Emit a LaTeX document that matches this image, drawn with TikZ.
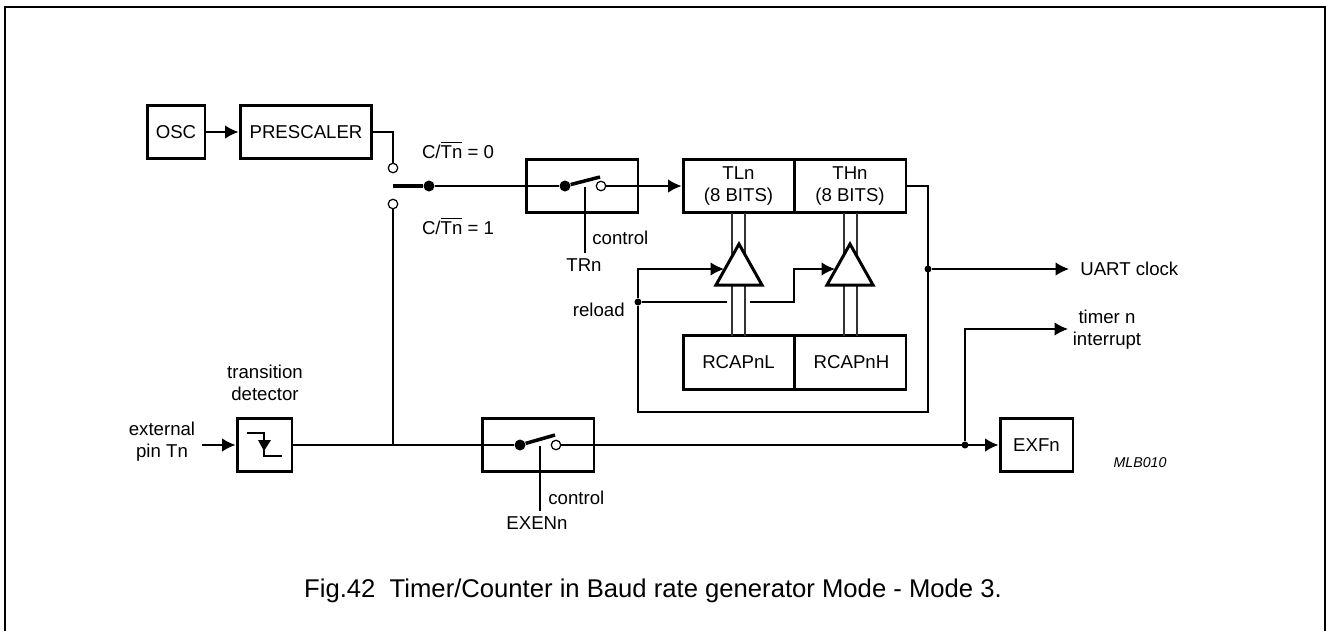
\documentclass[tikz,border=0pt]{standalone}
\usepackage{fontspec}
\setmainfont{Liberation Sans}
\usepackage{tikz}
\usetikzlibrary{arrows.meta,calc,positioning}
\tikzset{
  blockbox/.style={draw,line width=1.7pt,minimum height=1.07cm,inner sep=0pt,align=center},
  wire/.style={line width=0.85pt},
  bus/.style={line width=0.85pt,draw=black!80},
  flow/.style={wire,-{Latex[length=2.7mm,width=2.7mm]}},
  opendot/.style={circle,draw,fill=white,line width=0.7pt,minimum size=0.19cm,inner sep=0pt},
  blackdot/.style={circle,fill=black,minimum size=0.22cm,inner sep=0pt},
  smalldot/.style={circle,fill=black,minimum size=0.14cm,inner sep=0pt},
  buffer/.style={draw,fill=white,line width=1.7pt,line join=miter},
  lever/.style={line width=2pt},
  lab/.style={inner sep=0pt,align=center,font=\fontsize{10.6}{12.4}\selectfont},
}
\begin{document}
\begin{tikzpicture}[x=0.02cm,y=-0.02cm,>=Latex]
  \useasboundingbox (0,0) rectangle (1326,630);
  \draw[line width=1.1pt] (5,631)--(5,7)--(1325,7)--(1325,631);
  % upper row
  \node[blockbox,lab,minimum width=1.16cm] (osc) at (176,132) {OSC};
  \node[blockbox,lab,minimum width=2.64cm] (prescaler) at (306,132) {PRESCALER};
  \node[blockbox,minimum width=2.24cm] (swa) at (582,186) {};
  \node[blockbox,lab,minimum width=2.22cm] (tl) at (738.5,186) {TLn\\(8 BITS)};
  \node[blockbox,lab,minimum width=2.24cm] (th) at (850,186) {THn\\(8 BITS)};
  \node[blockbox,lab,minimum width=2.22cm] (rl) at (738.5,362.5) {RCAPnL};
  \node[blockbox,lab,minimum width=2.24cm] (rh) at (850,362.5) {\hspace{0.06cm}RCAPnH};
  % lower row
  \node[blockbox,minimum width=1.1cm] (det) at (264.5,445) {};
  \node[blockbox,minimum width=2.24cm] (swb) at (538,445) {};
  \node[blockbox,lab,minimum width=1.46cm] (exf) at (1036.5,445) {EXFn};
  % contacts
  \node[opendot] (ctop) at (393,168) {};
  \node[opendot] (cbot) at (393,204) {};
  \node[blackdot] (pole) at (429,186) {};
  \coordinate (polel) at (393,186);
  \node[blackdot] (swapole) at (565,186) {};
  \node[opendot] (swacon) at (601,186) {};
  \node[blackdot] (swbpole) at (520,445) {};
  \node[opendot] (swbcon) at (556,445) {};
  \coordinate (swatip) at (600,177);
  \coordinate (swbtip) at (555,435);
  % junctions
  \node[smalldot] (jclock) at (928,269) {};
  \node[smalldot] (jreload) at (638,302) {};
  \node[smalldot] (jint) at (965,445) {};
  \coordinate (jpin) at (393,445);
  % labels
  \node[lab] (ceq0) at (458,150) {C/$\overline{\mbox{Tn}}$ = 0};
  \node[lab] (ceq1) at (458,226) {C/$\overline{\mbox{Tn}}$ = 1};
  \node[lab,anchor=west] (ctla) at (592,238) {control};
  \node[lab] (trn) at (584,265) {TRn};
  \node[lab,anchor=east] (reload) at (625,310) {reload};
  \node[lab,anchor=west] (uart) at (1080,269) {UART clock};
  \node[lab] (timer) at (1107,330) {timer n\\interrupt};
  \node[lab] (trans) at (265,383) {transition\\detector};
  \node[lab] (ext) at (162,442) {external\\pin Tn};
  \node[lab,anchor=west] (ctlb) at (548,498) {control};
  \node[lab] (exen) at (537,523) {EXENn};
  \node[lab,font=\fontsize{8.1}{9}\selectfont\itshape] (mlb) at (1140,463) {MLB010};
  \node[lab,font=\fontsize{14.6}{16}\selectfont] (cap) at (653,591) {Fig.42\ \ Timer/Counter in Baud rate generator Mode - Mode 3.};
  % buffers
  \draw[bus] (732,213)--(732,336) (745,213)--(745,336);
  \draw[bus] (844,213)--(844,336) (857,213)--(857,336);
  \draw[buffer] (739,244)--(762,285)--(716,285)--cycle;
  \draw[buffer] (850,244)--(873,285)--(827,285)--cycle;
  % connectors
  \draw[flow] (osc)--(prescaler);
  \draw[wire] (prescaler.east) -| (ctop);
  \draw[lever] (polel)--(pole);
  \draw[wire] (pole)--(swapole);
  \draw[lever] (swapole)--(swatip);
  \draw[flow] (swacon)--(tl);
  \draw[wire] (cbot)--(jpin);
  \draw[flow] (202,445)--(det);
  \draw[wire] (det)--(swbpole);
  \draw[lever] (swbpole)--(swbtip);
  \draw[flow] (swbcon)--(exf);
  \draw[flow] (jint)--(965,329)--(1068,329);
  \draw[flow] (jclock)--(1069,269);
  \draw[wire] (th.east)--(928,186)--(928,412)--(638,412)--(jreload);
  \draw[flow] (jreload)--(638,269)--(724,269);
  \draw[wire] (jreload)--(727,302);
  \draw[flow] (750,302)--(794,302)--(794,269)--(835,269);
  \draw[wire] (585,187)--(585,253);
  \draw[wire] (540,446)--(540,511);
  % edge symbol
  \draw[wire] (247,433)--(264,433)--(264,456)--(282,456);
  \fill (258,440)--(271,440)--(264,451)--cycle;
\end{tikzpicture}
\end{document}
